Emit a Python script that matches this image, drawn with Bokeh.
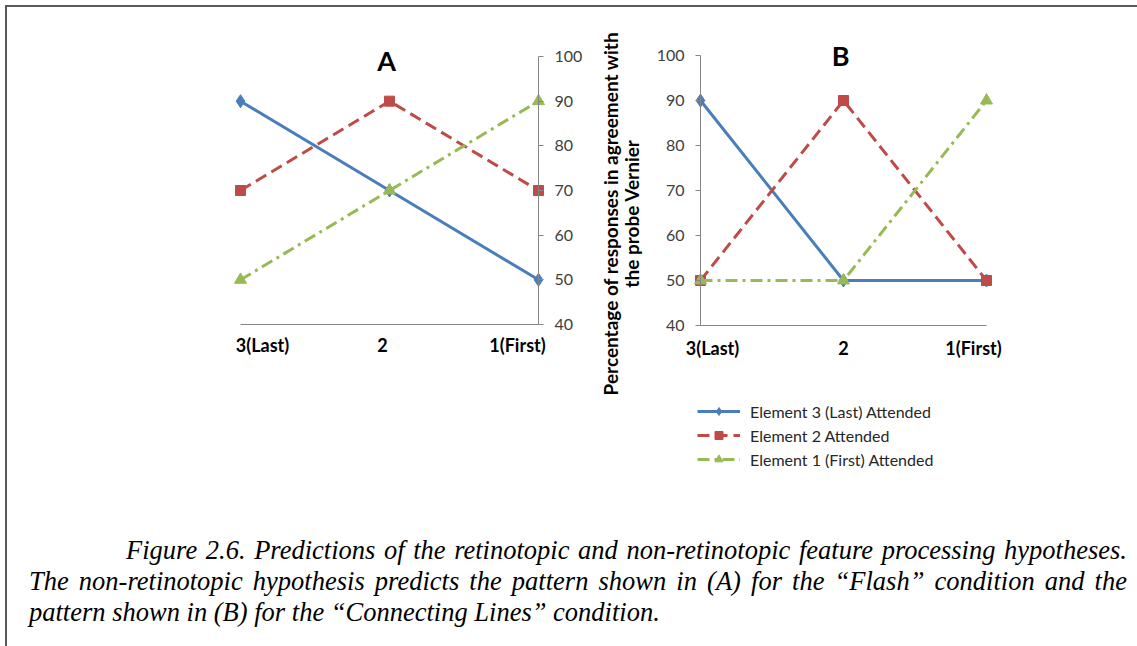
import math
from bokeh.plotting import figure
from bokeh.models import Range1d, FixedTicker, Label, Legend, LegendItem, Div
from bokeh.layouts import row, column
from bokeh.embed import file_html
from bokeh.resources import INLINE

# ---------------- data ----------------
categories = ["3(Last)", "2", "1(First)"]
series_names = ["Element 3 (Last) Attended", "Element 2 Attended", "Element 1 (First) Attended"]
panel_a_elem3 = [90, 70, 50]
panel_a_elem2 = [70, 90, 70]
panel_a_elem1 = [50, 70, 90]
panel_b_elem3 = [90, 50, 50]
panel_b_elem2 = [50, 90, 50]
panel_b_elem1 = [50, 50, 90]
y_ticks = [40, 50, 60, 70, 80, 90, 100]
y_min, y_max = 40, 100
y_title_lines = ["Percentage of responses in agreement with", "the probe Vernier"]
caption_lines = [
    "Figure 2.6. Predictions of the retinotopic and non-retinotopic feature processing hypotheses.",
    "The non-retinotopic hypothesis predicts the pattern shown in (A) for the \u201cFlash\u201d condition and the",
    "pattern shown in (B) for the \u201cConnecting Lines\u201d condition.",
]

# ---------------- styles ----------------
COLORS = ["#4A7EBB", "#BE4B48", "#98B954"]
DASHES = ["solid", "12 6", "12 5 3 5"]
MARKERS = ["diamond", "square", "triangle"]
MSIZES = [13, 10, 12]
AXIS_COLOR = "#868686"
FONT = "Lato"
xs = list(range(len(categories)))
FIG_H = 490


def ranges_for(width, height, px_first, px_last, py_top, py_bottom):
    """Data ranges so that the first/last category and y_max/y_min land on given pixels."""
    n = len(categories) - 1
    ux = (px_last - px_first) / n
    uy = (py_bottom - py_top) / (y_max - y_min)
    xr = Range1d(-px_first / ux, n + (width - px_last) / ux)
    yr = Range1d(y_min - (height - py_bottom) / uy, y_max + py_top / uy)
    return xr, yr


def make_panel(series, title, width, geom, y_side, label_offsets, label_y, title_pos):
    xr, yr = ranges_for(width, FIG_H, *geom)
    p = figure(width=width, height=FIG_H, output_backend="svg", toolbar_location=None,
               x_range=xr, y_range=yr, y_axis_location=y_side,
               min_border_left=0, min_border_right=0, min_border_top=0, min_border_bottom=0)
    p.outline_line_color = None
    p.grid.visible = False
    p.background_fill_color = "white"
    p.border_fill_color = "white"

    n = len(categories) - 1
    # x axis: line only at y_min, labels as text below
    p.xaxis.fixed_location = y_min
    p.xaxis.bounds = (0, n)
    p.xaxis.ticker = FixedTicker(ticks=[])
    p.xaxis.axis_line_color = AXIS_COLOR
    p.xaxis.axis_line_width = 1
    p.xaxis.major_tick_line_color = None
    p.xaxis.minor_tick_line_color = None

    p.yaxis.fixed_location = n if y_side == "right" else 0
    p.yaxis.bounds = (y_min, y_max)
    p.yaxis.ticker = FixedTicker(ticks=y_ticks)
    p.yaxis.axis_line_color = AXIS_COLOR
    p.yaxis.major_tick_line_color = AXIS_COLOR
    p.yaxis.major_tick_in = 0
    p.yaxis.major_tick_out = 5
    p.yaxis.minor_tick_line_color = None
    p.yaxis.major_label_standoff = 11
    p.yaxis.major_label_text_font = FONT
    p.yaxis.major_label_text_font_size = "16px"
    p.yaxis.major_label_text_color = "#404040"

    renderers = []
    for vals, c, d, m, s in zip(series, COLORS, DASHES, MARKERS, MSIZES):
        lr = p.line(xs, vals, line_color=c, line_width=3, line_dash=d)
        sr = p.scatter(xs, vals, marker=m, size=s, fill_color=c, line_color=c)
        renderers.append((lr, sr))

    for i, cat in enumerate(categories):
        p.add_layout(Label(x=xs[i], y=label_y, text=cat, x_offset=label_offsets[i],
                           text_align="center", text_baseline="middle",
                           text_font=FONT, text_font_style="bold", text_font_size="18px",
                           text_color="#000000"))

    p.add_layout(Label(x=title_pos[0], y=title_pos[1], text=title, text_align="center",
                       text_baseline="alphabetic", text_font=FONT, text_font_style="bold",
                       text_font_size="27px", text_color="#000000"))
    return p, renderers


series_a = [panel_a_elem3, panel_a_elem2, panel_a_elem1]
series_b = [panel_b_elem3, panel_b_elem2, panel_b_elem1]

# geometry: (px of first category, px of last category, py of y_max, py of y_min) in figure pixels
pa, ra = make_panel(series_a, "A", 643, (233, 531, 49, 317), "right",
                    [22, -7, -21], 35.4, (0.98, 99.1))
pb, rb = make_panel(series_b, "B", 486, (50, 336, 48, 318), "left",
                    [12, 0, -13], 35.0, (0.98, 100.0))

# y-axis title (between the two panels), drawn in panel A's right margin
for xv, txt in zip([2.483, 2.622], y_title_lines):
    pa.add_layout(Label(x=xv, y=64.85, text=txt, angle=math.pi / 2,
                        text_align="center", text_baseline="middle",
                        text_font=FONT, text_font_style="bold", text_font_size="19px",
                        text_color="#000000"))

legend = Legend(items=[LegendItem(label=n, renderers=list(r)) for n, r in zip(series_names, rb)],
                location=(47, 28), orientation="vertical")
legend.background_fill_alpha = 0
legend.border_line_color = None
legend.padding = 0
legend.margin = 0
legend.spacing = 4
legend.label_height = 20
legend.glyph_height = 20
legend.glyph_width = 43
legend.label_standoff = 10
legend.label_text_font = FONT
legend.label_text_font_size = "16px"
legend.label_text_color = "#262626"
pb.add_layout(legend, "center")

line_divs = [
    f'<div style="text-align:justify;text-align-last:justify;padding-left:97px;">{caption_lines[0]}</div>',
    f'<div style="text-align:justify;text-align-last:justify;">{caption_lines[1]}</div>',
    f'<div style="text-align:left;">{caption_lines[2]}</div>',
]
caption = Div(text=(
    '<div style="font-family:\'Liberation Serif\',\'Times New Roman\',serif;font-style:italic;'
    'font-size:26.5px;line-height:31px;color:#000;padding:33px 14px 0 17px;white-space:nowrap;'
    'box-sizing:border-box;width:1129px;">' + "".join(line_divs) + '</div>'),
    width=1129, height=139)

layout = column(row(pa, pb), caption,
                styles={"border-top": "2px solid #595959", "border-left": "2px solid #595959",
                        "border-right": "1px solid #d9d9d9", "margin-left": "5px",
                        "margin-top": "5px"})

open("out.html", "w").write(file_html(layout, INLINE))
